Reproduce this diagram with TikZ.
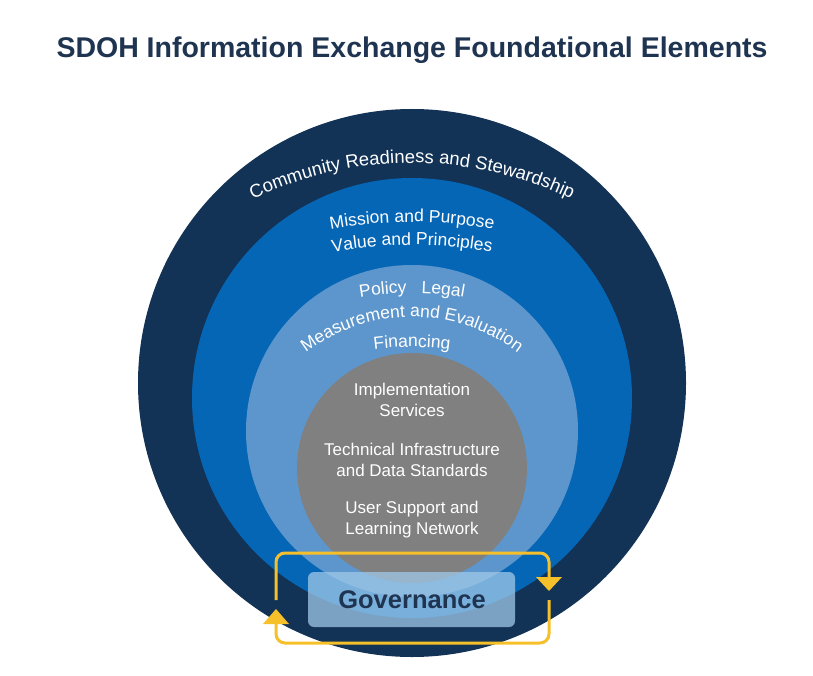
\documentclass[tikz,border=0pt]{standalone}
\usepackage{fontspec}
\setmainfont{Liberation Sans}
\usetikzlibrary{decorations.text}
\definecolor{navy}{RGB}{18,50,86}
\definecolor{midblue}{RGB}{6,102,182}
\definecolor{lightblue}{RGB}{92,150,204}
\definecolor{greyc}{RGB}{128,128,128}
\definecolor{titlec}{RGB}{31,52,80}
\definecolor{gold}{RGB}{246,192,42}
\definecolor{govfill}{RGB}{160,200,232}
\tikzset{
  loopline/.style={draw=gold,line width=3pt,rounded corners=9pt},
  inner/.style={text=white,font=\fontsize{17}{21}\selectfont,align=center}
}
\newcommand{\curvetext}[6]{% center y, radius, start, end, size, text
  \path[decorate,decoration={text along path,text align=center,
     text={|\color{white}\fontsize{#5}{#5}\selectfont|#6}}]
     (412,#1) ++(#3:#2) arc[start angle=#3,end angle=#4,radius=#2];}
\begin{document}
\begin{tikzpicture}[x=1pt,y=1pt]
\useasboundingbox (0,0) rectangle (813,-676);
\fill[white] (0,0) rectangle (813,-676);
\node[font=\bfseries\fontsize{28.5}{32}\selectfont,text=titlec] (title) at (412,-50) {SDOH Information Exchange Foundational Elements};
\fill[navy] (412,-383) circle[radius=274];
\fill[midblue] (412,-398) circle[radius=220];
\fill[lightblue] (412,-431) circle[radius=166];
\fill[greyc] (412,-468) circle[radius=115];
\curvetext{-530}{367}{145}{35}{18.5}{Community Readiness and Stewardship}
\curvetext{-672}{450}{110}{70}{17.5}{Mission and Purpose}
\curvetext{-695}{450}{110}{70}{17.5}{Value and Principles}
\curvetext{-593}{300}{115}{65}{17.5}{Policy \ \ Legal}
\curvetext{-492}{175}{165}{15}{17.5}{Measurement and Evaluation}
\curvetext{-647}{300}{115}{65}{17.5}{Financing}
\node[inner] (impl) at (412,-400) {Implementation\\Services};
\node[inner] (tech) at (412,-460) {Technical Infrastructure\\and Data Standards};
\node[inner] (user) at (412,-520) {User Support and\\Learning Network};
\fill[govfill,opacity=0.75,rounded corners=6pt] (308,-572) rectangle (515,-627);
\node[font=\bfseries\fontsize{25.5}{28}\selectfont,text=titlec] (gov) at (412,-600) {Governance};
\draw[loopline] (276,-600) -- (276,-553) -- (549,-553) -- (549,-578);
\fill[gold] (536,-577) -- (562,-577) -- (549,-591) -- cycle;
\draw[loopline] (549,-600) -- (549,-643) -- (276,-643) -- (276,-622);
\fill[gold] (263,-624) -- (289,-624) -- (276,-609) -- cycle;
\end{tikzpicture}
\end{document}
